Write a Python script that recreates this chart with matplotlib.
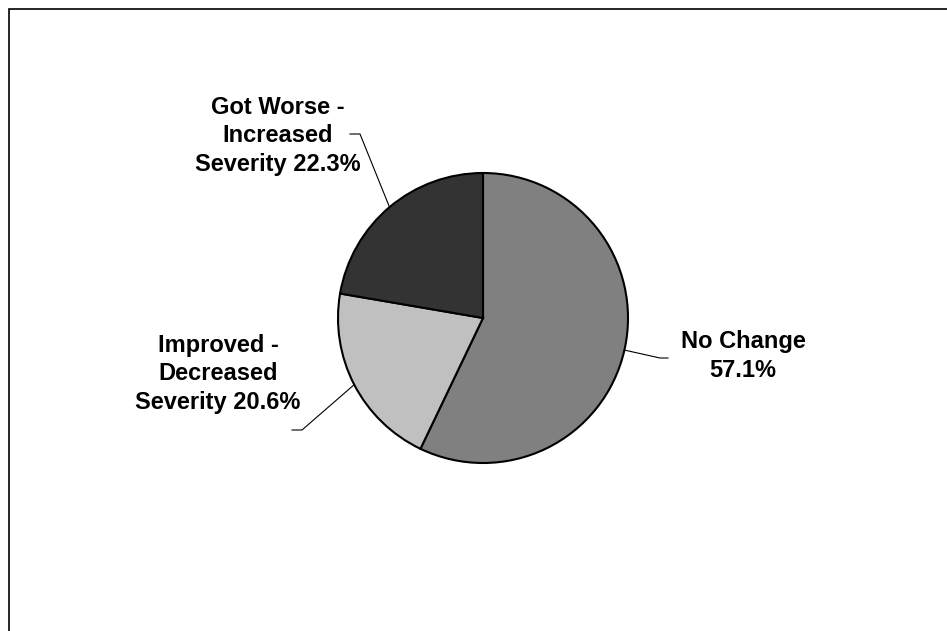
import matplotlib.pyplot as plt
import numpy as np

labels = ['No Change\n57.1%', 'Improved -\nDecreased\nSeverity 20.6%', 'Got Worse -\nIncreased\nSeverity 22.3%']
values = [57.1, 20.6, 22.3]
colors = ['#808080', '#C0C0C0', '#333333']

W, H = 947, 631
fig = plt.figure(figsize=(W / 100, H / 100), dpi=100)
ax = fig.add_axes([0, 0, 1, 1])

cx, cy, r = 483, H - 318, 145
wedges, _ = ax.pie(values, colors=colors, startangle=90, counterclock=False,
                   center=(cx, cy), radius=r, frame=True,
                   wedgeprops=dict(edgecolor='black', linewidth=1.5))
ax.set_xlim(0, W)
ax.set_ylim(0, H)
ax.set_aspect('equal')
ax.axis('off')

# frame around the chart area (cut off at right/bottom like the original)
fig.patches.append(plt.Rectangle((9 / W, -0.05), 1.05, 1 - 9 / H + 0.05,
                                 transform=fig.transFigure, fill=False,
                                 edgecolor='black', linewidth=1.2))

# label text positions (pixel coords from top) and leader elbows
text_pos = [(743, 356), (218, 374), (278, 136)]
elbows = [[(660, 358), (668, 358)], [(302, 430), (292, 430)], [(360, 134), (350, 134)]]

for w, lab, tp, el in zip(wedges, labels, text_pos, elbows):
    ang = np.deg2rad((w.theta1 + w.theta2) / 2)
    px, py = cx + r * np.cos(ang), cy + r * np.sin(ang)
    xs = [px] + [e[0] for e in el]
    ys = [py] + [H - e[1] for e in el]
    ax.plot(xs, ys, color='black', linewidth=0.8)
    ax.text(tp[0], H - tp[1], lab, ha='center', va='center',
            fontsize=17, fontweight='bold', family='Liberation Sans',
            linespacing=1.32)

fig.savefig('out.png', dpi=100)
